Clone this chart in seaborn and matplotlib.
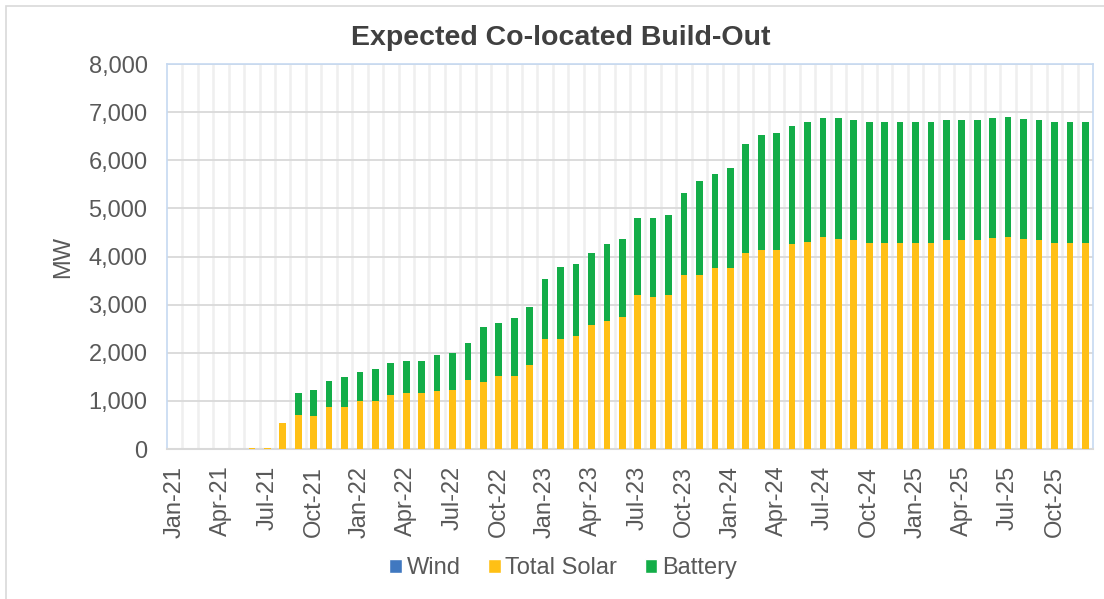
import pandas as pd
import matplotlib
matplotlib.use("Agg")
import matplotlib.pyplot as plt
from matplotlib.patches import Patch, Rectangle
from matplotlib.ticker import FuncFormatter, FixedLocator
import seaborn as sns

# monthly labels Jan-21 .. Dec-25
months = list(pd.date_range("2021-01-01", periods=60, freq="MS").strftime("%b-%y"))

# MW values
wind = [0] * 60

total_solar = [
    0, 0, 0, 0, 0, 30, 30, 550, 705, 685, 875, 875,
    990, 990, 1130, 1160, 1160, 1205, 1225, 1440, 1395, 1520, 1520, 1745,
    2295, 2295, 2340, 2580, 2655, 2745, 3195, 3155, 3195, 3625, 3625, 3770,
    3770, 4075, 4125, 4145, 4260, 4310, 4405, 4360, 4340, 4290, 4290, 4290,
    4290, 4290, 4340, 4340, 4340, 4385, 4405, 4360, 4340, 4290, 4290, 4290,
]

total_build = [
    0, 0, 0, 0, 0, 30, 30, 550, 1160, 1225, 1415, 1490,
    1610, 1655, 1795, 1825, 1825, 1960, 1990, 2195, 2530, 2625, 2715, 2960,
    3530, 3790, 3840, 4075, 4260, 4360, 4810, 4810, 4860, 5310, 5570, 5715,
    5835, 6335, 6520, 6570, 6715, 6785, 6880, 6880, 6835, 6805, 6805, 6805,
    6805, 6805, 6835, 6835, 6835, 6880, 6900, 6855, 6835, 6785, 6785, 6785,
]

battery = [t - s for t, s in zip(total_build, total_solar)]

df = pd.DataFrame({"month": months, "Wind": wind,
                   "Total Solar": total_solar, "Battery": battery})
df["solar_top"] = df["Wind"] + df["Total Solar"]
df["battery_top"] = df["solar_top"] + df["Battery"]

WIND_C = "#4078c0"
SOLAR_C = "#ffc015"
BATT_C = "#13ad48"
TEXT_C = "#595959"

sns.set_theme(style="white")
plt.rcParams["font.family"] = ["Liberation Sans", "DejaVu Sans"]

fig = plt.figure(figsize=(11.04, 5.99), dpi=100)
ax = fig.add_axes([167 / 1104, 1 - 449 / 599, (1093 - 167) / 1104, (449 - 64) / 599])

# stacked bars: draw cumulative totals back to front
bar_kw = dict(saturation=1, width=0.43, errorbar=None, ax=ax, zorder=3, linewidth=0)
sns.barplot(data=df, x="month", y="battery_top", color=BATT_C, **bar_kw)
sns.barplot(data=df, x="month", y="solar_top", color=SOLAR_C, **bar_kw)
sns.barplot(data=df, x="month", y="Wind", color=WIND_C, **bar_kw)

ax.set_xlim(-0.5, 59.5)
ax.set_ylim(0, 8000)
ax.set_yticks(range(0, 8001, 1000))
ax.yaxis.set_major_formatter(FuncFormatter(lambda v, p: f"{int(v):,}"))
ax.set_xticks(range(0, 60, 3))
ax.set_xticklabels(months[::3], rotation=90)
ax.xaxis.set_minor_locator(FixedLocator([i + 0.5 for i in range(59)]))

ax.grid(axis="y", which="major", color="#d9d9d9", linewidth=1.3, zorder=1)
ax.grid(axis="x", which="minor", color="#efefef", linewidth=1.8, zorder=0)
ax.set_axisbelow(True)

ax.tick_params(axis="both", which="both", length=0, labelsize=17, labelcolor=TEXT_C)
ax.tick_params(axis="y", pad=14)
ax.tick_params(axis="x", pad=12)

for side in ["top", "left", "right"]:
    ax.spines[side].set_color("#c6d9f1")
    ax.spines[side].set_linewidth(1.2)
ax.spines["bottom"].set_color("#d9d9d9")
ax.spines["bottom"].set_linewidth(1.5)

ax.set_xlabel("")
ax.set_ylabel("MW", fontsize=17, color=TEXT_C, labelpad=10)

fig.text(561 / 1104, 1 - 38 / 599, "Expected Co-located Build-Out", ha="center",
         va="center", fontsize=20.5, fontweight="bold", color="#404040")

handles = [Patch(facecolor=WIND_C, label="Wind"),
           Patch(facecolor=SOLAR_C, label="Total Solar"),
           Patch(facecolor=BATT_C, label="Battery")]
leg = fig.legend(handles=handles, loc="center", bbox_to_anchor=(563 / 1104, 1 - 568 / 599),
                 ncol=3, frameon=False, fontsize=17, handlelength=0.55, handleheight=0.55,
                 handletextpad=0.2, columnspacing=1.15, labelcolor=TEXT_C)

# outer chart border
fig.patches.append(Rectangle((6 / 1104, -0.05), 1.1, 1.05 - 6 / 599,
                             transform=fig.transFigure, fill=False,
                             edgecolor="#d9d9d9", linewidth=1.2))

fig.savefig("out.png", dpi=100)
